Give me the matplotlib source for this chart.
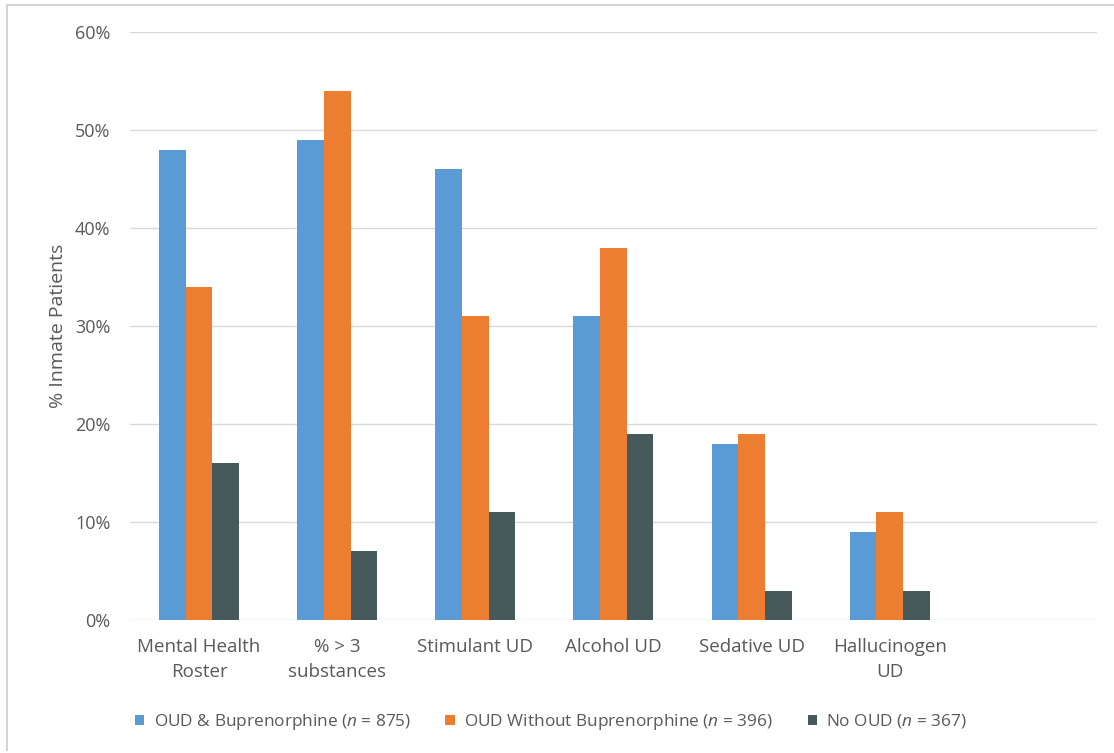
import numpy as np
import matplotlib
matplotlib.use("Agg")
import matplotlib.pyplot as plt
from matplotlib.lines import Line2D

plt.rcParams['font.family'] = ['Open Sans', 'DejaVu Sans']
plt.rcParams['mathtext.fontset'] = 'custom'
plt.rcParams['mathtext.it'] = 'Open Sans:italic'
plt.rcParams['mathtext.rm'] = 'Open Sans'

# categories (last slot left empty on the axis)
categories = ["Mental Health\nRoster", "% > 3\nsubstances", "Stimulant UD",
              "Alcohol UD", "Sedative UD", "Hallucinogen\nUD", ""]
oud_bup = [48, 49, 46, 31, 18, 9]
oud_no_bup = [34, 54, 31, 38, 19, 11]
no_oud = [16, 7, 11, 19, 3, 3]
series_labels = [r"OUD & Buprenorphine ($\mathit{n}$ = 875)",
                 r"OUD Without Buprenorphine ($\mathit{n}$ = 396)",
                 r"No OUD ($\mathit{n}$ = 367)"]
colors = ["#5B9BD5", "#ED7D31", "#46595B"]
yticks = [0, 10, 20, 30, 40, 50, 60]

txt = "#595959"

fig = plt.figure(figsize=(11.14, 7.53), dpi=100)
ax = fig.add_axes([0.1167, 0.1766, 0.868, 0.781])

x = np.arange(len(oud_bup))
w = 0.193
for i, vals in enumerate([oud_bup, oud_no_bup, no_oud]):
    ax.bar(x + (i - 1) * w, np.array(vals) / 100.0, width=w,
           color=colors[i], label=series_labels[i], zorder=3)

ax.set_xlim(-0.5, len(categories) - 0.5)
ax.set_ylim(0, 0.6)
ax.set_yticks([v / 100.0 for v in yticks])
ax.set_yticklabels(["%d%%" % v for v in yticks])
ax.set_xticks(np.arange(len(categories)))
ax.set_xticklabels(categories, linespacing=1.5)
ax.tick_params(axis='both', length=0, colors=txt)
ax.tick_params(axis='y', pad=14, labelsize=13)
ax.tick_params(axis='x', pad=13, labelsize=13.5)
ax.grid(axis='y', color="#D9D9D9", linewidth=1.0, zorder=0)
for s in ax.spines.values():
    s.set_visible(False)
ax.set_ylabel("% Inmate Patients", color=txt, fontsize=14, labelpad=6)

fig.legend(loc='center', bbox_to_anchor=(551 / 1114, 1 - 722 / 753), ncol=3,
           frameon=False, fontsize=12.4, labelcolor=txt,
           handlelength=0.55, handleheight=0.55, handletextpad=0.55,
           columnspacing=2.0)

# light frame around the figure
frame_col = "#D4D4D4"
fig.add_artist(Line2D([7 / 1114, 7 / 1114], [3 / 753, 1 - 5 / 753],
                      transform=fig.transFigure, color=frame_col, lw=1.5))
fig.add_artist(Line2D([7 / 1114, 1.0], [1 - 5 / 753, 1 - 5 / 753],
                      transform=fig.transFigure, color=frame_col, lw=1.5))

fig.savefig("out.png", dpi=100, facecolor="white")
